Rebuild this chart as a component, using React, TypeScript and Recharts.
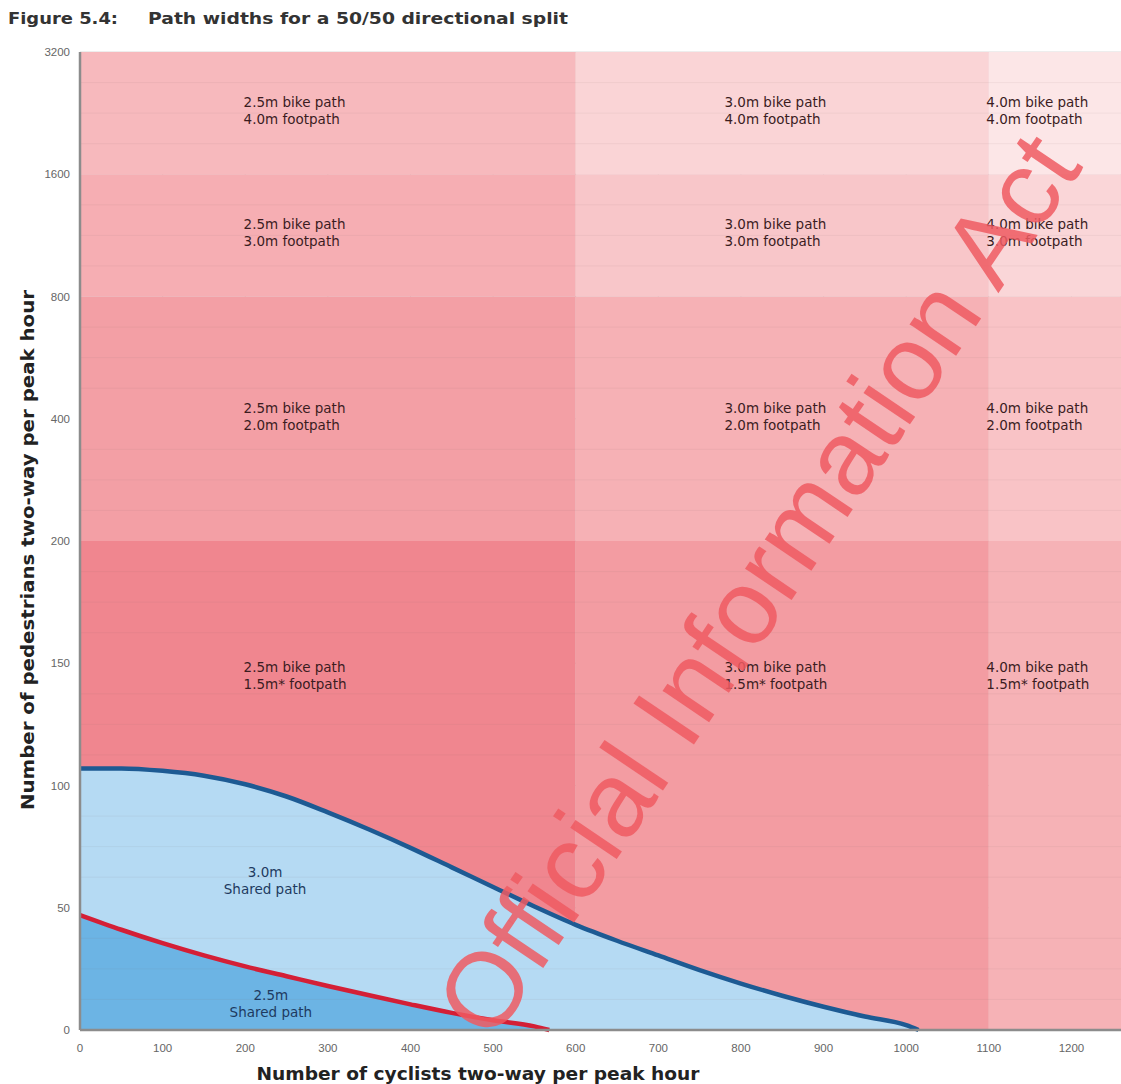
import {
  Area,
  CartesianGrid,
  ComposedChart,
  ReferenceArea,
  ReferenceDot,
  ReferenceLine,
  XAxis,
  YAxis,
} from 'recharts'

// cyclists two-way per peak hour
const cyclistTicks = [0, 100, 200, 300, 400, 500, 600, 700, 800, 900, 1000, 1100, 1200]
// pedestrian axis is banded: every tick gets the same height
const pedestrianTicks = [0, 50, 100, 150, 200, 400, 800, 1600, 3200]

// 3.0m shared path limit (blue line)
const wideSharedCyclists = [0, 50, 100, 150, 200, 250, 300, 350, 400, 450, 500, 550, 600, 650, 700, 750, 800, 850, 900, 950, 1000, 1015]
const wideSharedPeds = [107, 107, 106, 104, 100.5, 95.5, 89, 82, 74.5, 66.5, 58.5, 50.5, 43, 36.5, 30.5, 24.5, 19, 14, 9.5, 5.5, 2, 0]

// 2.5m shared path limit (red line)
const narrowSharedCyclists = [0, 50, 100, 150, 200, 250, 300, 350, 400, 450, 500, 550, 568]
const narrowSharedPeds = [47, 41, 35.5, 30.5, 26, 22, 18, 14.2, 10.5, 7, 4, 1.5, 0]

// zones: columns by cyclists, rows by pedestrians
const columnEdges = [0, 600, 1100, 1260]
const rowEdges = [0, 200, 800, 1600, 3200]
const bikePaths = ['2.5m bike path', '3.0m bike path', '4.0m bike path']
const footPaths = ['1.5m* footpath', '2.0m footpath', '3.0m footpath', '4.0m footpath']
const bikeLabelAt = [198, 780, 1097]
const footLabelAt = [144, 400, 1200, 2400]

const zoneColors = [
  ['#f0868f', '#f39ca2', '#f6b2b6'],
  ['#f39fa5', '#f6b1b5', '#f9c3c6'],
  ['#f6aeb3', '#f8c6c9', '#fad6d8'],
  ['#f7b9bd', '#fad4d6', '#fce6e7'],
]

const sharedLabels = [
  { cyc: 224, ped: 60, lines: ['3.0m', 'Shared path'] },
  { cyc: 231, ped: 10, lines: ['2.5m', 'Shared path'] },
]

// map a pedestrian count onto the banded axis (one unit per tick interval)
function toBand(v: number) {
  for (let i = 0; i < pedestrianTicks.length - 1; i++) {
    const lo = pedestrianTicks[i]
    const hi = pedestrianTicks[i + 1]
    if (v <= hi) return i + (v - lo) / (hi - lo)
  }
  return pedestrianTicks.length - 1
}

const wideData = wideSharedCyclists.map((cyc, i) => ({ cyc, band: toBand(wideSharedPeds[i]) }))
const narrowData = narrowSharedCyclists.map((cyc, i) => ({ cyc, band: toBand(narrowSharedPeds[i]) }))
const bandTicks = pedestrianTicks.map((_, i) => i)
const minorBands: number[] = []
bandTicks.slice(0, -1).forEach((b) => {
  minorBands.push(b + 0.25, b + 0.5, b + 0.75)
})

const font = 'Arial, "Liberation Sans", Helvetica, sans-serif'
const wide = '"DejaVu Sans", Verdana, sans-serif'

function TwoLines({ viewBox, lines, color, anchor, size }: any) {
  if (!viewBox) return null
  const x = viewBox.x + viewBox.width / 2
  const y = viewBox.y + viewBox.height / 2
  return (
    <text x={x} y={y - 6} fill={color} fontSize={size} fontFamily={wide} textAnchor={anchor}>
      <tspan x={x} dy={0}>{lines[0]}</tspan>
      <tspan x={x} dy={17}>{lines[1]}</tspan>
    </text>
  )
}

function YTitle({ viewBox }: any) {
  const x = 34
  const y = viewBox.y + viewBox.height / 2 + 9
  return (
    <text
      x={x}
      y={y}
      transform={`rotate(-90 ${x} ${y})`}
      textAnchor="middle"
      fontSize={17}
      fontWeight="bold"
      fill="#222"
      fontFamily={wide}
      textLength={520}
      lengthAdjust="spacingAndGlyphs"
    >
      Number of pedestrians two-way per peak hour
    </text>
  )
}

function XTitle() {
  return (
    <text
      x={478}
      y={1080}
      textAnchor="middle"
      fontSize={17}
      fontWeight="bold"
      fill="#222"
      fontFamily={wide}
      textLength={443}
      lengthAdjust="spacingAndGlyphs"
    >
      Number of cyclists two-way per peak hour
    </text>
  )
}

export default function App() {
  return (
    <div style={{ position: 'absolute', left: 0, top: 0, width: 1121, height: 1084, overflow: 'hidden', background: '#fff', fontFamily: font }}>
      <ComposedChart width={1121} height={1084} margin={{ top: 52, right: 0, bottom: 0, left: 0 }}>
        <XAxis
          type="number"
          dataKey="cyc"
          domain={[0, 1260]}
          ticks={cyclistTicks}
          allowDataOverflow
          height={54}
          tickLine={false}
          axisLine={{ stroke: '#8c8c8c', strokeWidth: 2.5 }}
          tick={{ fill: '#666', fontSize: 11.5, fontFamily: font }}
          tickMargin={8}
          label={{ content: <XTitle /> }}
        />
        <YAxis
          type="number"
          dataKey="band"
          domain={[0, 8]}
          ticks={bandTicks}
          tickFormatter={(i: number) => String(pedestrianTicks[i])}
          width={80}
          tickLine={false}
          axisLine={{ stroke: '#8c8c8c', strokeWidth: 2.5 }}
          tick={{ fill: '#666', fontSize: 11.5, fontFamily: font }}
          tickMargin={4}
          label={{ content: (p: any) => <YTitle {...p} /> }}
        />
        {rowEdges.slice(0, -1).map((lo, r) =>
          columnEdges.slice(0, -1).map((left, c) => (
            <ReferenceArea
              key={`z${r}-${c}`}
              x1={left}
              x2={columnEdges[c + 1]}
              y1={toBand(lo)}
              y2={toBand(rowEdges[r + 1])}
              fill={zoneColors[r][c]}
              fillOpacity={1}
              stroke="none"
              ifOverflow="hidden"
            />
          )),
        )}
        <Area
          data={wideData}
          dataKey="band"
          type="monotone"
          stroke="#1d5a93"
          strokeWidth={4.5}
          fill="#b5daf3"
          fillOpacity={1}
          isAnimationActive={false}
          dot={false}
          activeDot={false}
        />
        <Area
          data={narrowData}
          dataKey="band"
          type="monotone"
          stroke="#d41f36"
          strokeWidth={4.5}
          fill="#6cb4e4"
          fillOpacity={1}
          isAnimationActive={false}
          dot={false}
          activeDot={false}
        />
        <CartesianGrid stroke="#6a5a5a" strokeOpacity={0.22} strokeWidth={1} />
        {minorBands.map((b) => (
          <ReferenceLine key={`m${b}`} y={b} stroke="#7a6a6a" strokeOpacity={0.08} />
        ))}
        {footPaths.map((foot, r) =>
          bikePaths.map((bike, c) => (
            <ReferenceDot
              key={`l${r}-${c}`}
              x={bikeLabelAt[c]}
              y={toBand(footLabelAt[r])}
              r={0}
              fill="none"
              stroke="none"
              label={{ content: (p: any) => <TwoLines {...p} lines={[bike, foot]} color="#3b1c1f" anchor="start" size={13.5} /> }}
            />
          )),
        )}
        {sharedLabels.map((s) => (
          <ReferenceDot
            key={s.lines[0]}
            x={s.cyc}
            y={toBand(s.ped)}
            r={0}
            fill="none"
            stroke="none"
            label={{ content: (p: any) => <TwoLines {...p} lines={s.lines} color="#1e3a60" anchor="middle" size={13.5} /> }}
          />
        ))}
      </ComposedChart>
      <svg width={1121} height={1084} style={{ position: 'absolute', left: 0, top: 0, pointerEvents: 'none' }}>
        <text x={8} y={24} fontSize={16} fontWeight="bold" fill="#333" fontFamily={wide} textLength={110} lengthAdjust="spacingAndGlyphs">
          Figure 5.4:
        </text>
        <text x={148} y={24} fontSize={16} fontWeight="bold" fill="#333" fontFamily={wide} textLength={420} lengthAdjust="spacingAndGlyphs">
          Path widths for a 50/50 directional split
        </text>
        <text
          x={492}
          y={1044}
          transform="rotate(-56 492 1044)"
          fontSize={106}
          fontFamily={font}
          fill="#ef5a61"
          fillOpacity={0.85}
        >
          Official Information Act
        </text>
      </svg>
    </div>
  )
}
